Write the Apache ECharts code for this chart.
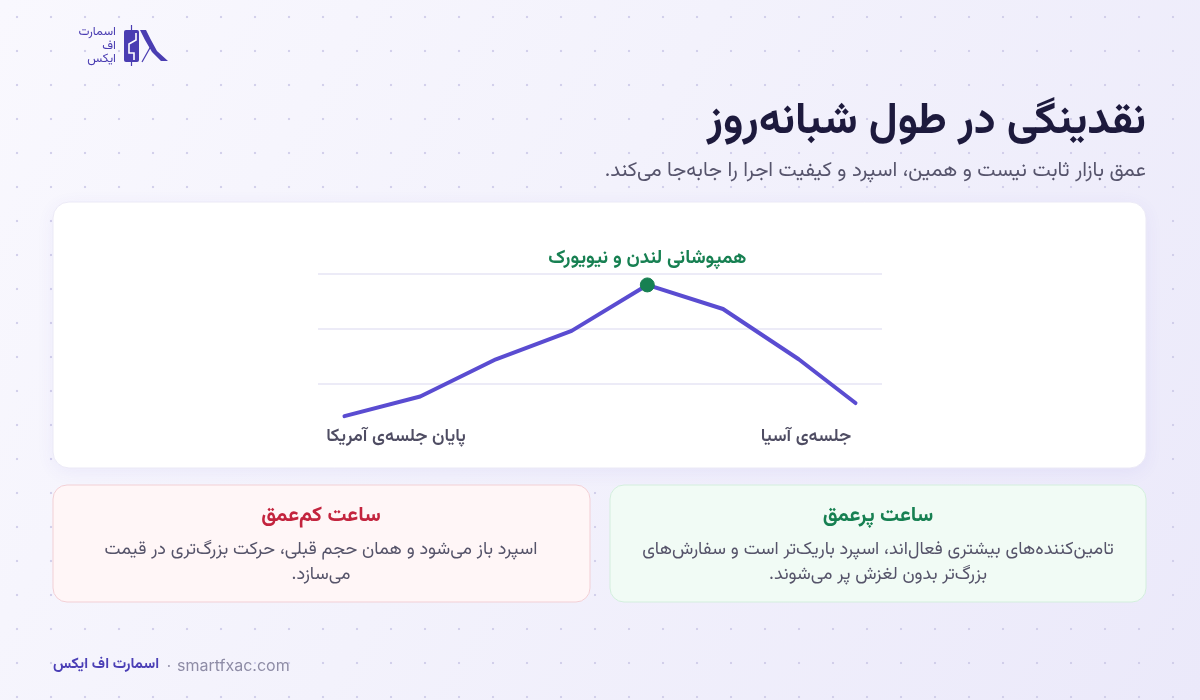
<!DOCTYPE html>
<html lang="fa">
<head>
<meta charset="utf-8">
<script src="https://cdn.jsdelivr.net/npm/echarts@6/dist/echarts.min.js"></script>
<style>
  html, body { margin: 0; padding: 0; }
  body {
    width: 1200px; height: 700px; overflow: hidden;
    background-color: #f4f3fc;
    background-image:
      radial-gradient(circle, rgba(205,202,232,0.85) 1.2px, transparent 1.6px),
      linear-gradient(120deg, #f9f8fe 0%, #f3f2fc 45%, #ebe9fa 100%);
    background-size: 34px 34px, 100% 100%;
    background-position: 0px 0px, 0 0;
  }
  #chart { width: 1200px; height: 700px; }
</style>
</head>
<body>
<div id="chart" dir="rtl"></div>
<script>
// ---- data ----
const hours = [0, 1, 2, 3, 4, 5, 6, 6.75];
const liquidity = [10, 19, 36, 49, 70, 59, 36, 16];
const peakIndex = 4;
const peakLabel = 'همپوشانی لندن و نیویورک';
const leftAxisLabel = 'پایان جلسه‌ی آمریکا';
const rightAxisLabel = 'جلسه‌ی آسیا';
const titleText = 'نقدینگی در طول شبانه‌روز';
const subtitleText = 'عمق بازار ثابت نیست و همین، اسپرد و کیفیت اجرا را جابه‌جا می‌کند.';
const cardLowTitle = 'ساعت کم‌عمق';
const cardLowBody = ['اسپرد باز می‌شود و همان حجم قبلی، حرکت بزرگ‌تری در قیمت', 'می‌سازد.'];
const cardHighTitle = 'ساعت پرعمق';
const cardHighBody = ['تامین‌کننده‌های بیشتری فعال‌اند، اسپرد باریک‌تر است و سفارش‌های', 'بزرگ‌تر بدون لغزش پر می‌شوند.'];
const brandName = 'اسمارت اف ایکس';
const siteName = 'smartfxac.com';
const logoLines = ['اسمارت', 'اف', 'ایکس'];

const FA = "Vazirmatn, 'Noto Sans Arabic', 'DejaVu Sans', sans-serif";
const PURPLE = '#5a4cd1';
const GREEN = '#178052';
const BODY = '#56546a';

const chart = echarts.init(document.getElementById('chart'), null, { renderer: 'canvas' });

const seriesData = hours.map((h, i) => {
  const item = { value: [h, liquidity[i]] };
  if (i === peakIndex) {
    item.symbol = 'circle';
    item.symbolSize = 14;
    item.itemStyle = { color: GREEN, borderColor: GREEN, opacity: 1 };
    item.label = {
      show: true, position: 'top', distance: 8,
      formatter: peakLabel,
      color: GREEN, fontFamily: FA, fontSize: 19, fontWeight: 'bold'
    };
  }
  return item;
});

function txt(x, y, text, font, fill, align) {
  return { type: 'text', x: x, y: y, style: { text: text, align: align || 'center', verticalAlign: 'middle', font: font, fill: fill } };
}

const option = {
  backgroundColor: 'transparent',
  animation: false,
  grid: { left: 318, right: 318, top: 274, bottom: 262 },
  xAxis: { type: 'value', min: -0.35, max: 7.1, show: false },
  yAxis: {
    type: 'value', min: 0, max: 75, interval: 25,
    axisLine: { show: false }, axisTick: { show: false }, axisLabel: { show: false },
    splitLine: { show: true, showMinLine: false, lineStyle: { color: '#e6e4f4', width: 1.5 } }
  },
  series: [{
    type: 'line',
    data: seriesData,
    symbol: 'none',
    lineStyle: { color: PURPLE, width: 4, cap: 'round', join: 'round' },
    itemStyle: { color: PURPLE },
    z: 5
  }],
  graphic: [
    { type: 'rect', z: -10, shape: { x: 53, y: 202, width: 1093, height: 266, r: 16 },
      style: { fill: '#ffffff', stroke: '#ebe9f6', lineWidth: 1, shadowBlur: 18, shadowColor: 'rgba(90,76,209,0.07)', shadowOffsetY: 4 } },
    { type: 'rect', z: -10, shape: { x: 53, y: 485, width: 537, height: 117, r: 14 },
      style: { fill: '#fff6f7', stroke: '#f2cfd5', lineWidth: 1 } },
    { type: 'rect', z: -10, shape: { x: 610, y: 485, width: 536, height: 117, r: 14 },
      style: { fill: '#f1fbf5', stroke: '#d3eedd', lineWidth: 1 } },
    txt(1146, 126, titleText, 'bold 44px ' + FA, '#1d1a3d', 'right'),
    txt(1146, 173, subtitleText, '20.5px ' + FA, '#56546c', 'right'),
    txt(396, 438, leftAxisLabel, '600 18px ' + FA, '#4f4d63'),
    txt(806, 438, rightAxisLabel, '600 18px ' + FA, '#4f4d63'),
    txt(321, 518, cardLowTitle, 'bold 21px ' + FA, '#c3243e'),
    txt(321, 551, cardLowBody[0], '18px ' + FA, BODY),
    txt(321, 576, cardLowBody[1], '18px ' + FA, BODY),
    txt(878, 518, cardHighTitle, 'bold 21px ' + FA, GREEN),
    txt(878, 551, cardHighBody[0], '18px ' + FA, BODY),
    txt(878, 576, cardHighBody[1], '18px ' + FA, BODY),
    txt(53, 666, brandName, 'bold 15px ' + FA, '#4b3fb6', 'left'),
    txt(169, 666, '·', '15px Inter, sans-serif', '#9a98b0'),
    txt(177, 666, siteName, '16px Inter, Roboto, sans-serif', '#8e8ca6', 'left'),
    txt(116, 33, logoLines[0], '12.5px ' + FA, '#4a3db2', 'right'),
    txt(116, 47, logoLines[1], '12.5px ' + FA, '#4a3db2', 'right'),
    txt(116, 60, logoLines[2], '12.5px ' + FA, '#4a3db2', 'right'),
    { type: 'line', shape: { x1: 131.5, y1: 25, x2: 131.5, y2: 66 }, style: { stroke: '#4a3db2', lineWidth: 1.2 } },
    { type: 'rect', shape: { x: 124, y: 30, width: 15, height: 32, r: 2 }, style: { fill: '#4a3db2' } },
    { type: 'polyline', shape: { points: [[136, 33], [136, 40], [129, 44], [129, 53], [134, 53], [134, 60]] },
      style: { stroke: '#ffffff', lineWidth: 1.6, fill: null } },
    { type: 'polygon', shape: { points: [[140, 30], [146, 30], [151, 40], [157, 51], [168, 61], [161, 61], [152, 52], [145, 40]] },
      style: { fill: '#4a3db2' } },
    { type: 'line', shape: { x1: 151, y1: 46, x2: 142, y2: 62 }, style: { stroke: '#4a3db2', lineWidth: 1.2 } }
  ]
};

chart.setOption(option);
</script>
</body>
</html>
